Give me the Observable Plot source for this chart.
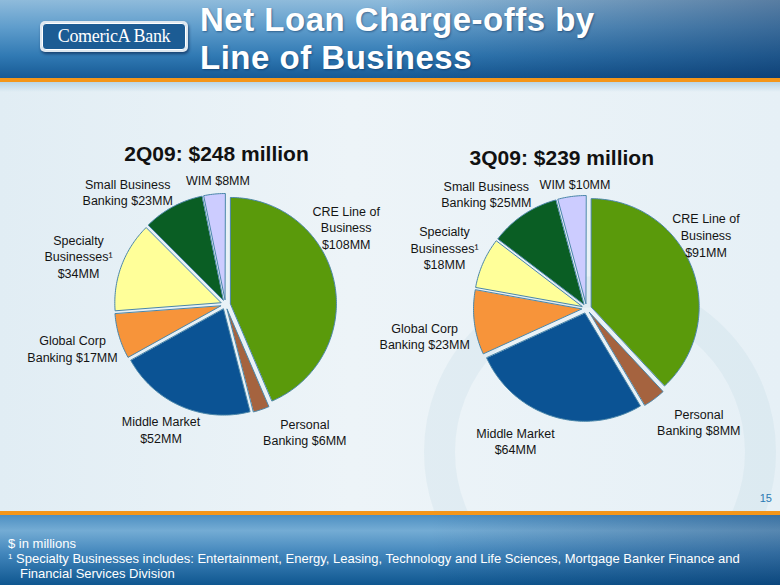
<!DOCTYPE html>
<html>
<head>
<meta charset="utf-8">
<script src="https://cdn.jsdelivr.net/npm/d3@7"></script>
<script src="https://cdn.jsdelivr.net/npm/@observablehq/plot@0.6"></script>
<style>
html,body{margin:0;padding:0;}
body{width:780px;height:585px;position:relative;overflow:hidden;font-family:"Liberation Sans",Arial,sans-serif;
  background:linear-gradient(90deg,#e1edf4 0%,#edf4f8 45%,#e6f0f6 100%);}
#header{position:absolute;left:0;top:0;width:780px;height:78px;
  background:linear-gradient(90deg,rgba(0,25,70,0) 0%,rgba(0,25,70,0) 50%,rgba(0,25,70,0.38) 100%),
             linear-gradient(180deg,#8fbbdb 0%,#5f9dcc 35%,#3079b3 72%,#175a95 100%);}
#orange1{position:absolute;left:0;top:78px;width:780px;height:4px;background:#f4961a;}
#shade1{position:absolute;left:0;top:82px;width:780px;height:10px;background:linear-gradient(180deg,#b9d5e6,rgba(230,240,246,0));}
#logo{position:absolute;left:40px;top:21px;width:148px;height:31px;border-radius:5px;background:#dfe8f0;
  box-shadow:1px 2px 3px rgba(0,20,60,0.55);}
#logo .in{position:absolute;left:2px;top:2px;right:2px;bottom:2px;border-radius:4px;background:#1c5c94;border:1px solid #ffffff;box-sizing:border-box;
  color:#fff;font-family:"Liberation Serif","DejaVu Serif",serif;font-size:18px;line-height:25px;text-align:center;letter-spacing:-0.3px;}
.tl{position:absolute;left:200px;height:30px;color:#fff;font-weight:bold;font-size:33px;line-height:30px;letter-spacing:0.5px;white-space:nowrap;
  text-shadow:1px 1px 2px rgba(0,30,70,0.45);}
#ring{position:absolute;left:424px;top:276px;width:352px;height:352px;border-radius:50%;box-sizing:border-box;
  border:31px solid rgba(160,195,213,0.14);}
#chart{position:absolute;left:0;top:82px;}
#page{position:absolute;right:8px;top:492px;font-size:11px;color:#2a79b3;}
#orange2{position:absolute;left:0;top:511px;width:780px;height:4px;background:#f4961a;}
#footer{position:absolute;left:0;top:515px;width:780px;height:70px;
  background:linear-gradient(90deg,rgba(0,25,70,0) 0%,rgba(0,25,70,0) 55%,rgba(0,25,70,0.25) 100%),
             linear-gradient(180deg,#4d8fc2 0%,#74acd4 22%,#4286bc 55%,#0f5790 100%);}
.nt{position:absolute;color:#fff;font-size:13px;line-height:15px;height:15px;white-space:nowrap;}
.nt sup{font-size:8px;vertical-align:0;position:relative;top:-4px;}
</style>
</head>
<body>
<div id="header"></div>
<div id="orange1"></div>
<div id="shade1"></div>
<div id="logo"><div class="in">ComericA Bank</div></div>
<div class="tl" style="top:5px">Net Loan Charge-offs by</div>
<div class="tl" style="top:42.5px">Line of Business</div>
<div id="ring"></div>
<div id="chart"></div>
<div id="page">15</div>
<div id="orange2"></div>
<div id="footer"></div>
<div class="nt" style="left:8px;top:536px">$ in millions</div>
<div class="nt" style="left:8px;top:551px"><sup>1</sup> Specialty Businesses includes: Entertainment, Energy, Leasing, Technology and Life Sciences, Mortgage Banker Finance and</div>
<div class="nt" style="left:20px;top:566px">Financial Services Division</div>
<script>
// ---- data ----
const categories = ["CRE Line of Business","Personal Banking","Middle Market","Global Corp Banking","Specialty Businesses","Small Business Banking","WIM"];
const labelText = ["CRE Line of\nBusiness\n","Personal\nBanking ","Middle Market\n","Global Corp\nBanking ","Specialty\nBusinesses¹\n","Small Business\nBanking ","WIM "];
const quarters = ["2Q09","3Q09"];
const values2Q09 = [108, 6, 52, 17, 34, 23, 8];
const values3Q09 = [91, 8, 64, 23, 18, 25, 10];
const colors = ["#5a9a0b","#a5633f","#0b5394","#f7943a","#ffff99","#0a5e24","#ccccff"];

// ---- layout ----
const W = 780, H = 429, TOP = 82;
const pies = [
  {q: quarters[0], values: values2Q09, cx: 225, cy: 304, r: 106,
   title: [-9, -150],
   labels: [[120.7,-77.5],[79.3,127],[-64.5,124.8],[-153,43.5],[-147,-48.7],[-97.8,-112.7],[-7.5,-125.3]]},
  {q: quarters[1], values: values3Q09, cx: 586, cy: 308, r: 108,
   title: [-24.7, -150.7],
   labels: [[119.5,-73.9],[112.3,113],[-71,132.3],[-161.8,27],[-142,-61.2],[-100.2,-115],[-11.5,-125.3]]}
];
const explode = 5;

const slicePts = [], labelRows = [], titleRows = [];
pies.forEach((p, pi) => {
  const arcs = d3.pie().sort(null).value(d => d)(p.values);
  arcs.forEach((a, i) => {
    const mid = (a.startAngle + a.endAngle) / 2;
    const ox = p.cx + explode * Math.sin(mid), oy = p.cy - explode * Math.cos(mid);
    const id = pi + "-" + i;
    slicePts.push({id, cat: categories[i], x: ox, y: oy});
    const n = Math.max(2, Math.ceil((a.endAngle - a.startAngle) / (Math.PI / 180)));
    for (let k = 0; k <= n; k++) {
      const t = a.startAngle + (a.endAngle - a.startAngle) * k / n;
      slicePts.push({id, cat: categories[i], x: ox + p.r * Math.sin(t), y: oy - p.r * Math.cos(t)});
    }
    labelRows.push({x: p.cx + p.labels[i][0], y: p.cy + p.labels[i][1], text: labelText[i] + "$" + p.values[i] + "MM"});
  });
  titleRows.push({x: p.cx + p.title[0], y: p.cy + p.title[1], text: p.q + ": $" + d3.sum(p.values) + " million"});
});

const chart = Plot.plot({
  width: W, height: H, margin: 0,
  x: {domain: [0, W], range: [0, W], axis: null},
  y: {domain: [TOP, TOP + H], range: [0, H], axis: null},
  color: {domain: categories, range: colors},
  style: {background: "transparent", fontFamily: "'Liberation Sans', Arial, sans-serif"},
  marks: [
    Plot.line(slicePts, {x: "x", y: "y", z: "id", fill: "cat", stroke: "#4a86a9", strokeWidth: 1, curve: "linear-closed"}),
    Plot.text(labelRows, {x: "x", y: "y", text: "text", fontSize: 12.5, lineHeight: 1.33, textAnchor: "middle", fill: "#141414"}),
    Plot.text(titleRows, {x: "x", y: "y", text: "text", fontSize: 21, fontWeight: "bold", textAnchor: "middle", fill: "#111"})
  ]
});
document.getElementById("chart").appendChild(chart);
</script>
</body>
</html>
